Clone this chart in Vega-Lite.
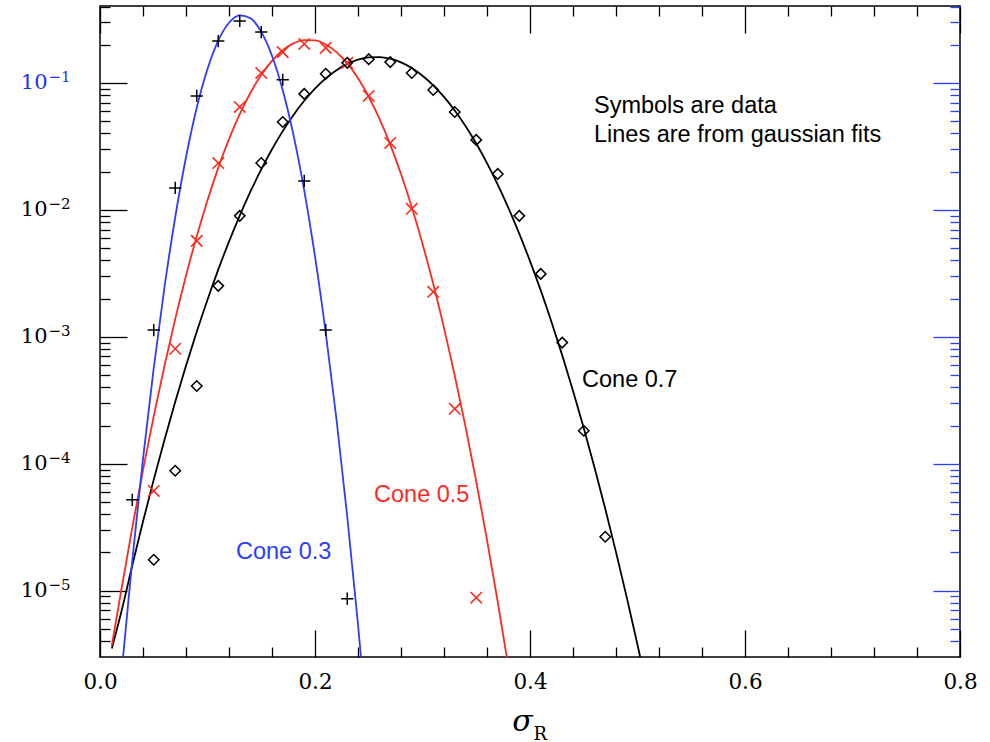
{
  "$schema": "https://vega.github.io/schema/vega-lite/v6.json",
  "width": 860,
  "height": 651,
  "autosize": "none",
  "padding": {"left": 100, "top": 6, "right": 30, "bottom": 85},
  "background": "white",
  "config": {
    "view": {"stroke": "black", "strokeWidth": 1.5},
    "axis": {"grid": false, "domain": false, "tickColor": "black", "tickWidth": 1.3, "labelFlush": false, "labelOverlap": false}
  },
  "datasets": {
    "fits": [
      {"sigma": 0.02, "value": 2.24e-6, "cone": "0.3"},
      {"sigma": 0.03, "value": 1.72e-5, "cone": "0.3"},
      {"sigma": 0.04, "value": 1.09e-4, "cone": "0.3"},
      {"sigma": 0.05, "value": 5.69e-4, "cone": "0.3"},
      {"sigma": 0.06, "value": 2.46e-3, "cone": "0.3"},
      {"sigma": 0.07, "value": 8.79e-3, "cone": "0.3"},
      {"sigma": 0.08, "value": 0.026, "cone": "0.3"},
      {"sigma": 0.09, "value": 0.0637, "cone": "0.3"},
      {"sigma": 0.10, "value": 0.1288, "cone": "0.3"},
      {"sigma": 0.11, "value": 0.2156, "cone": "0.3"},
      {"sigma": 0.12, "value": 0.2983, "cone": "0.3"},
      {"sigma": 0.13, "value": 0.3413, "cone": "0.3"},
      {"sigma": 0.14, "value": 0.3231, "cone": "0.3"},
      {"sigma": 0.15, "value": 0.2528, "cone": "0.3"},
      {"sigma": 0.16, "value": 0.1637, "cone": "0.3"},
      {"sigma": 0.17, "value": 0.0876, "cone": "0.3"},
      {"sigma": 0.18, "value": 0.0388, "cone": "0.3"},
      {"sigma": 0.19, "value": 0.01419, "cone": "0.3"},
      {"sigma": 0.20, "value": 4.3e-3, "cone": "0.3"},
      {"sigma": 0.21, "value": 1.076e-3, "cone": "0.3"},
      {"sigma": 0.22, "value": 2.23e-4, "cone": "0.3"},
      {"sigma": 0.23, "value": 3.82e-5, "cone": "0.3"},
      {"sigma": 0.24, "value": 5.41e-6, "cone": "0.3"},
      {"sigma": 0.25, "value": 6.3e-7, "cone": "0.3"},

      {"sigma": 0.011, "value": 3.7e-6, "cone": "0.5"},
      {"sigma": 0.02, "value": 1.03e-5, "cone": "0.5"},
      {"sigma": 0.03, "value": 3.12e-5, "cone": "0.5"},
      {"sigma": 0.04, "value": 8.89e-5, "cone": "0.5"},
      {"sigma": 0.05, "value": 2.37e-4, "cone": "0.5"},
      {"sigma": 0.06, "value": 5.92e-4, "cone": "0.5"},
      {"sigma": 0.07, "value": 1.384e-3, "cone": "0.5"},
      {"sigma": 0.08, "value": 3.03e-3, "cone": "0.5"},
      {"sigma": 0.09, "value": 6.21e-3, "cone": "0.5"},
      {"sigma": 0.10, "value": 0.01192, "cone": "0.5"},
      {"sigma": 0.11, "value": 0.02143, "cone": "0.5"},
      {"sigma": 0.12, "value": 0.03606, "cone": "0.5"},
      {"sigma": 0.13, "value": 0.0568, "cone": "0.5"},
      {"sigma": 0.14, "value": 0.0838, "cone": "0.5"},
      {"sigma": 0.15, "value": 0.1156, "cone": "0.5"},
      {"sigma": 0.16, "value": 0.1495, "cone": "0.5"},
      {"sigma": 0.17, "value": 0.181, "cone": "0.5"},
      {"sigma": 0.18, "value": 0.2051, "cone": "0.5"},
      {"sigma": 0.19, "value": 0.2177, "cone": "0.5"},
      {"sigma": 0.20, "value": 0.2163, "cone": "0.5"},
      {"sigma": 0.21, "value": 0.2011, "cone": "0.5"},
      {"sigma": 0.22, "value": 0.1751, "cone": "0.5"},
      {"sigma": 0.23, "value": 0.1428, "cone": "0.5"},
      {"sigma": 0.24, "value": 0.109, "cone": "0.5"},
      {"sigma": 0.25, "value": 0.0779, "cone": "0.5"},
      {"sigma": 0.26, "value": 0.0521, "cone": "0.5"},
      {"sigma": 0.27, "value": 0.03266, "cone": "0.5"},
      {"sigma": 0.28, "value": 0.01916, "cone": "0.5"},
      {"sigma": 0.29, "value": 0.01052, "cone": "0.5"},
      {"sigma": 0.30, "value": 5.41e-3, "cone": "0.5"},
      {"sigma": 0.31, "value": 2.606e-3, "cone": "0.5"},
      {"sigma": 0.32, "value": 1.175e-3, "cone": "0.5"},
      {"sigma": 0.33, "value": 4.95e-4, "cone": "0.5"},
      {"sigma": 0.34, "value": 1.96e-4, "cone": "0.5"},
      {"sigma": 0.35, "value": 7.24e-5, "cone": "0.5"},
      {"sigma": 0.36, "value": 2.51e-5, "cone": "0.5"},
      {"sigma": 0.37, "value": 8.14e-6, "cone": "0.5"},
      {"sigma": 0.38, "value": 2.47e-6, "cone": "0.5"},

      {"sigma": 0.011, "value": 3.5e-6, "cone": "0.7"},
      {"sigma": 0.02, "value": 6.87e-6, "cone": "0.7"},
      {"sigma": 0.03, "value": 1.579e-5, "cone": "0.7"},
      {"sigma": 0.04, "value": 3.5e-5, "cone": "0.7"},
      {"sigma": 0.05, "value": 7.49e-5, "cone": "0.7"},
      {"sigma": 0.06, "value": 1.547e-4, "cone": "0.7"},
      {"sigma": 0.07, "value": 3.08e-4, "cone": "0.7"},
      {"sigma": 0.08, "value": 5.92e-4, "cone": "0.7"},
      {"sigma": 0.09, "value": 1.096e-3, "cone": "0.7"},
      {"sigma": 0.10, "value": 1.96e-3, "cone": "0.7"},
      {"sigma": 0.11, "value": 3.38e-3, "cone": "0.7"},
      {"sigma": 0.12, "value": 5.62e-3, "cone": "0.7"},
      {"sigma": 0.13, "value": 9.02e-3, "cone": "0.7"},
      {"sigma": 0.14, "value": 0.01396, "cone": "0.7"},
      {"sigma": 0.15, "value": 0.02085, "cone": "0.7"},
      {"sigma": 0.16, "value": 0.03004, "cone": "0.7"},
      {"sigma": 0.17, "value": 0.04175, "cone": "0.7"},
      {"sigma": 0.18, "value": 0.056, "cone": "0.7"},
      {"sigma": 0.19, "value": 0.0724, "cone": "0.7"},
      {"sigma": 0.20, "value": 0.0903, "cone": "0.7"},
      {"sigma": 0.21, "value": 0.1087, "cone": "0.7"},
      {"sigma": 0.22, "value": 0.1262, "cone": "0.7"},
      {"sigma": 0.23, "value": 0.1413, "cone": "0.7"},
      {"sigma": 0.24, "value": 0.1527, "cone": "0.7"},
      {"sigma": 0.25, "value": 0.1591, "cone": "0.7"},
      {"sigma": 0.26, "value": 0.16, "cone": "0.7"},
      {"sigma": 0.27, "value": 0.1552, "cone": "0.7"},
      {"sigma": 0.28, "value": 0.1452, "cone": "0.7"},
      {"sigma": 0.29, "value": 0.1311, "cone": "0.7"},
      {"sigma": 0.30, "value": 0.1141, "cone": "0.7"},
      {"sigma": 0.31, "value": 0.0958, "cone": "0.7"},
      {"sigma": 0.32, "value": 0.0776, "cone": "0.7"},
      {"sigma": 0.33, "value": 0.0607, "cone": "0.7"},
      {"sigma": 0.34, "value": 0.0458, "cone": "0.7"},
      {"sigma": 0.35, "value": 0.0333, "cone": "0.7"},
      {"sigma": 0.36, "value": 0.02336, "cone": "0.7"},
      {"sigma": 0.37, "value": 0.01581, "cone": "0.7"},
      {"sigma": 0.38, "value": 0.01032, "cone": "0.7"},
      {"sigma": 0.39, "value": 6.5e-3, "cone": "0.7"},
      {"sigma": 0.40, "value": 3.95e-3, "cone": "0.7"},
      {"sigma": 0.41, "value": 2.32e-3, "cone": "0.7"},
      {"sigma": 0.42, "value": 1.31e-3, "cone": "0.7"},
      {"sigma": 0.43, "value": 7.14e-4, "cone": "0.7"},
      {"sigma": 0.44, "value": 3.76e-4, "cone": "0.7"},
      {"sigma": 0.45, "value": 1.91e-4, "cone": "0.7"},
      {"sigma": 0.46, "value": 9.35e-5, "cone": "0.7"},
      {"sigma": 0.47, "value": 4.42e-5, "cone": "0.7"},
      {"sigma": 0.48, "value": 2.01e-5, "cone": "0.7"},
      {"sigma": 0.49, "value": 8.85e-6, "cone": "0.7"},
      {"sigma": 0.50, "value": 3.75e-6, "cone": "0.7"},
      {"sigma": 0.51, "value": 1.54e-6, "cone": "0.7"}
    ],
    "obs": [
      {"sigma": 0.03, "value": 5.2e-5, "cone": "0.3"},
      {"sigma": 0.05, "value": 1.13e-3, "cone": "0.3"},
      {"sigma": 0.07, "value": 0.0149, "cone": "0.3"},
      {"sigma": 0.09, "value": 0.079, "cone": "0.3"},
      {"sigma": 0.11, "value": 0.214, "cone": "0.3"},
      {"sigma": 0.13, "value": 0.308, "cone": "0.3"},
      {"sigma": 0.15, "value": 0.252, "cone": "0.3"},
      {"sigma": 0.17, "value": 0.106, "cone": "0.3"},
      {"sigma": 0.19, "value": 0.0169, "cone": "0.3"},
      {"sigma": 0.21, "value": 1.13e-3, "cone": "0.3"},
      {"sigma": 0.23, "value": 8.65e-6, "cone": "0.3"},

      {"sigma": 0.05, "value": 6.1e-5, "cone": "0.5"},
      {"sigma": 0.07, "value": 8.05e-4, "cone": "0.5"},
      {"sigma": 0.09, "value": 5.7e-3, "cone": "0.5"},
      {"sigma": 0.11, "value": 0.0234, "cone": "0.5"},
      {"sigma": 0.13, "value": 0.0647, "cone": "0.5"},
      {"sigma": 0.15, "value": 0.12, "cone": "0.5"},
      {"sigma": 0.17, "value": 0.175, "cone": "0.5"},
      {"sigma": 0.19, "value": 0.203, "cone": "0.5"},
      {"sigma": 0.21, "value": 0.189, "cone": "0.5"},
      {"sigma": 0.23, "value": 0.144, "cone": "0.5"},
      {"sigma": 0.25, "value": 0.079, "cone": "0.5"},
      {"sigma": 0.27, "value": 0.0337, "cone": "0.5"},
      {"sigma": 0.29, "value": 0.0102, "cone": "0.5"},
      {"sigma": 0.31, "value": 2.26e-3, "cone": "0.5"},
      {"sigma": 0.33, "value": 2.71e-4, "cone": "0.5"},
      {"sigma": 0.35, "value": 8.8e-6, "cone": "0.5"},

      {"sigma": 0.05, "value": 1.75e-5, "cone": "0.7"},
      {"sigma": 0.07, "value": 8.8e-5, "cone": "0.7"},
      {"sigma": 0.09, "value": 4.1e-4, "cone": "0.7"},
      {"sigma": 0.11, "value": 2.52e-3, "cone": "0.7"},
      {"sigma": 0.13, "value": 8.97e-3, "cone": "0.7"},
      {"sigma": 0.15, "value": 0.0234, "cone": "0.7"},
      {"sigma": 0.17, "value": 0.0493, "cone": "0.7"},
      {"sigma": 0.19, "value": 0.082, "cone": "0.7"},
      {"sigma": 0.21, "value": 0.118, "cone": "0.7"},
      {"sigma": 0.23, "value": 0.144, "cone": "0.7"},
      {"sigma": 0.25, "value": 0.154, "cone": "0.7"},
      {"sigma": 0.27, "value": 0.146, "cone": "0.7"},
      {"sigma": 0.29, "value": 0.12, "cone": "0.7"},
      {"sigma": 0.31, "value": 0.088, "cone": "0.7"},
      {"sigma": 0.33, "value": 0.059, "cone": "0.7"},
      {"sigma": 0.35, "value": 0.0356, "cone": "0.7"},
      {"sigma": 0.37, "value": 0.0192, "cone": "0.7"},
      {"sigma": 0.39, "value": 8.97e-3, "cone": "0.7"},
      {"sigma": 0.41, "value": 3.13e-3, "cone": "0.7"},
      {"sigma": 0.43, "value": 9.0e-4, "cone": "0.7"},
      {"sigma": 0.45, "value": 1.82e-4, "cone": "0.7"},
      {"sigma": 0.47, "value": 2.66e-5, "cone": "0.7"}
    ],
    "notes": [
      {"sigma": 0.4595, "value": 0.0581, "label": "Symbols are data", "cone": "note"},
      {"sigma": 0.4595, "value": 0.0343, "label": "Lines are from gaussian fits", "cone": "note"},
      {"sigma": 0.4484, "value": 4.04e-4, "label": "Cone 0.7", "cone": "0.7"},
      {"sigma": 0.2549, "value": 5.02e-5, "label": "Cone 0.5", "cone": "0.5"},
      {"sigma": 0.1265, "value": 1.79e-5, "label": "Cone 0.3", "cone": "0.3"}
    ]
  },
  "resolve": {"axis": {"x": "independent", "y": "independent"}},
  "layer": [
    {
      "data": {"name": "fits"},
      "transform": [{"filter": "datum.cone == '0.7'"}],
      "mark": {"type": "line", "color": "#000000", "strokeWidth": 1.8, "clip": true, "interpolate": "monotone"},
      "encoding": {
        "x": {
          "field": "sigma", "type": "quantitative",
          "scale": {"domain": [0, 0.8], "nice": false, "zero": false},
          "axis": {
            "orient": "bottom", "values": [0, 0.2, 0.4, 0.6, 0.8], "format": ".1f",
            "labels": true, "labelFont": "DejaVu Serif", "labelFontSize": 21.5, "labelColor": "black",
            "tickSize": -27, "labelPadding": 41,
            "title": "σ", "titleFont": "DejaVu Serif", "titleFontStyle": "italic", "titleFontWeight": "normal",
            "titleFontSize": 30, "titleColor": "black", "titleX": 422, "titleY": 73,
            "titleAlign": "center", "titleBaseline": "alphabetic"
          }
        },
        "y": {
          "field": "value", "type": "quantitative",
          "scale": {"type": "log", "domain": [3.0e-6, 0.404], "nice": false},
          "axis": {
            "orient": "left", "values": [1e-5, 1e-4, 1e-3, 1e-2, 1e-1],
            "labels": true, "labelFont": "DejaVu Serif", "labelFontSize": 21,
            "labelExpr": "'10'", "labelAlign": "right", "labelBaseline": "middle",
            "labelColor": {"condition": {"test": "datum.value > 0.05", "value": "#2233ee"}, "value": "black"},
            "tickSize": -27, "labelPadding": 80, "title": null
          }
        }
      }
    },
    {
      "data": {"name": "fits"},
      "transform": [{"filter": "datum.cone == '0.5'"}],
      "mark": {"type": "line", "color": "#ff2a1f", "strokeWidth": 1.8, "clip": true, "interpolate": "monotone"},
      "encoding": {
        "x": {
          "field": "sigma", "type": "quantitative",
          "scale": {"domain": [0, 0.8], "nice": false, "zero": false},
          "axis": {
            "orient": "bottom",
            "values": [0.04, 0.08, 0.12, 0.16, 0.24, 0.28, 0.32, 0.36, 0.44, 0.48, 0.52, 0.56, 0.64, 0.68, 0.72, 0.76],
            "labels": false, "tickSize": -10,
            "title": "R", "titleFont": "DejaVu Serif", "titleFontWeight": "normal", "titleFontSize": 18,
            "titleColor": "black", "titleX": 433, "titleY": 82, "titleAlign": "left", "titleBaseline": "alphabetic"
          }
        },
        "y": {
          "field": "value", "type": "quantitative",
          "scale": {"type": "log", "domain": [3.0e-6, 0.404], "nice": false},
          "axis": {
            "orient": "left",
            "values": [4e-6, 5e-6, 6e-6, 7e-6, 8e-6, 9e-6, 2e-5, 3e-5, 4e-5, 5e-5, 6e-5, 7e-5, 8e-5, 9e-5, 2e-4, 3e-4, 4e-4, 5e-4, 6e-4, 7e-4, 8e-4, 9e-4, 2e-3, 3e-3, 4e-3, 5e-3, 6e-3, 7e-3, 8e-3, 9e-3, 0.02, 0.03, 0.04, 0.05, 0.06, 0.07, 0.08, 0.09, 0.2, 0.3, 0.4],
            "labels": false, "tickSize": -10, "title": null
          }
        }
      }
    },
    {
      "data": {"name": "fits"},
      "transform": [{"filter": "datum.cone == '0.3'"}],
      "mark": {"type": "line", "color": "#2b3dff", "strokeWidth": 1.8, "clip": true, "interpolate": "monotone"},
      "encoding": {
        "x": {
          "field": "sigma", "type": "quantitative",
          "scale": {"domain": [0, 0.8], "nice": false, "zero": false},
          "axis": {"orient": "top", "values": [0, 0.2, 0.4, 0.6, 0.8], "labels": false, "tickSize": -27, "title": null}
        },
        "y": {
          "field": "value", "type": "quantitative",
          "scale": {"type": "log", "domain": [3.0e-6, 0.404], "nice": false},
          "axis": {"orient": "right", "values": [1e-5, 1e-4, 1e-3, 1e-2, 1e-1], "labels": false, "tickSize": -27, "tickColor": "#2b3dff", "title": null}
        }
      }
    },
    {
      "data": {"name": "obs"},
      "transform": [{"filter": "datum.cone == '0.3'"}],
      "mark": {"type": "point", "shape": "M-1,0L1,0M0,-1L0,1", "filled": false, "color": "#000000", "strokeWidth": 1.5, "size": 150, "opacity": 1},
      "encoding": {
        "x": {
          "field": "sigma", "type": "quantitative",
          "scale": {"domain": [0, 0.8], "nice": false, "zero": false},
          "axis": {
            "orient": "top",
            "values": [0.04, 0.08, 0.12, 0.16, 0.24, 0.28, 0.32, 0.36, 0.44, 0.48, 0.52, 0.56, 0.64, 0.68, 0.72, 0.76],
            "labels": false, "tickSize": -10, "title": null
          }
        },
        "y": {
          "field": "value", "type": "quantitative",
          "scale": {"type": "log", "domain": [3.0e-6, 0.404], "nice": false},
          "axis": {
            "orient": "right",
            "values": [4e-6, 5e-6, 6e-6, 7e-6, 8e-6, 9e-6, 2e-5, 3e-5, 4e-5, 5e-5, 6e-5, 7e-5, 8e-5, 9e-5, 2e-4, 3e-4, 4e-4, 5e-4, 6e-4, 7e-4, 8e-4, 9e-4, 2e-3, 3e-3, 4e-3, 5e-3, 6e-3, 7e-3, 8e-3, 9e-3, 0.02, 0.03, 0.04, 0.05, 0.06, 0.07, 0.08, 0.09, 0.2, 0.3, 0.4],
            "labels": false, "tickSize": -10, "tickColor": "#2b3dff", "title": null
          }
        }
      }
    },
    {
      "data": {"name": "obs"},
      "transform": [{"filter": "datum.cone == '0.5'"}],
      "mark": {"type": "point", "shape": "M-1,-1L1,1M-1,1L1,-1", "filled": false, "color": "#ff2a1f", "strokeWidth": 1.6, "size": 130, "opacity": 1},
      "encoding": {
        "x": {"field": "sigma", "type": "quantitative", "scale": {"domain": [0, 0.8], "nice": false, "zero": false}, "axis": null},
        "y": {
          "field": "value", "type": "quantitative",
          "scale": {"type": "log", "domain": [3.0e-6, 0.404], "nice": false},
          "axis": {
            "orient": "left", "values": [1e-5, 1e-4, 1e-3, 1e-2, 1e-1],
            "ticks": false, "labels": true, "labelFont": "DejaVu Serif", "labelFontSize": 15,
            "labelExpr": "'−' + round(-log(datum.value) / LN10)",
            "labelAlign": "left", "labelBaseline": "middle", "labelOffset": -6, "labelPadding": 52,
            "labelColor": {"condition": {"test": "datum.value > 0.05", "value": "#2233ee"}, "value": "black"},
            "title": null
          }
        }
      }
    },
    {
      "data": {"name": "obs"},
      "transform": [{"filter": "datum.cone == '0.7'"}],
      "mark": {"type": "point", "shape": "diamond", "filled": false, "color": "#000000", "strokeWidth": 1.5, "size": 110, "opacity": 1},
      "encoding": {
        "x": {"field": "sigma", "type": "quantitative", "scale": {"domain": [0, 0.8], "nice": false, "zero": false}, "axis": null},
        "y": {"field": "value", "type": "quantitative", "scale": {"type": "log", "domain": [3.0e-6, 0.404], "nice": false}, "axis": null}
      }
    },
    {
      "data": {"name": "notes"},
      "mark": {"type": "text", "align": "left", "baseline": "alphabetic", "font": "Liberation Sans", "fontSize": 23.5},
      "encoding": {
        "x": {"field": "sigma", "type": "quantitative", "scale": {"domain": [0, 0.8], "nice": false, "zero": false}, "axis": null},
        "y": {"field": "value", "type": "quantitative", "scale": {"type": "log", "domain": [3.0e-6, 0.404], "nice": false}, "axis": null},
        "text": {"field": "label"},
        "color": {
          "field": "cone", "type": "nominal", "legend": null,
          "scale": {"domain": ["0.3", "0.5", "0.7", "note"], "range": ["#2b3dff", "#ff2a1f", "#000000", "#000000"]}
        }
      }
    }
  ]
}
